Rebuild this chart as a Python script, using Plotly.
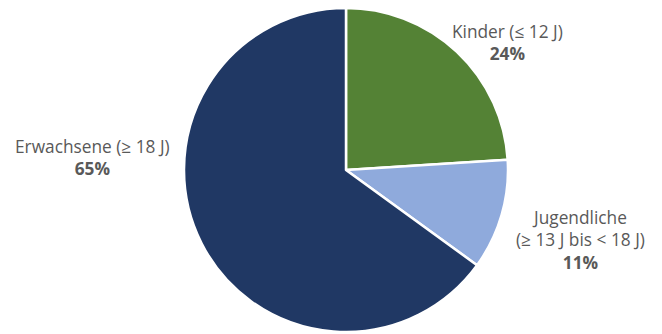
import plotly.graph_objects as go

labels = ["Kinder (≤ 12 J)", "Jugendliche<br>(≥ 13 J bis < 18 J)", "Erwachsene (≥ 18 J)"]
values = [24, 11, 65]
colors = ["#548235", "#8FAADC", "#203864"]

W, H = 662, 334
cx, cy, r = 346, 170, 162

fig = go.Figure(go.Pie(
    labels=labels, values=values, sort=False, direction="clockwise", rotation=0,
    marker=dict(colors=colors, line=dict(color="white", width=2.5)),
    textinfo="none", hoverinfo="label+percent", showlegend=False,
    domain=dict(x=[(cx - r) / W, (cx + r) / W], y=[(H - cy - r) / H, (H - cy + r) / H]),
))

label_pos = [(507, 43), (580, 240), (92, 157)]
for lab, v, (x, y) in zip(labels, values, label_pos):
    fig.add_annotation(
        text=f"{lab}<br><b>{v}%</b>", x=x / W, y=1 - y / H, xref="paper", yref="paper",
        showarrow=False, xanchor="center", yanchor="middle", align="center",
        font=dict(family="Open Sans", size=17.3, color="#595959"),
    )

fig.update_layout(width=W, height=H, margin=dict(l=0, r=0, t=0, b=0),
                  paper_bgcolor="white", plot_bgcolor="white")
fig.write_html("out.html")
